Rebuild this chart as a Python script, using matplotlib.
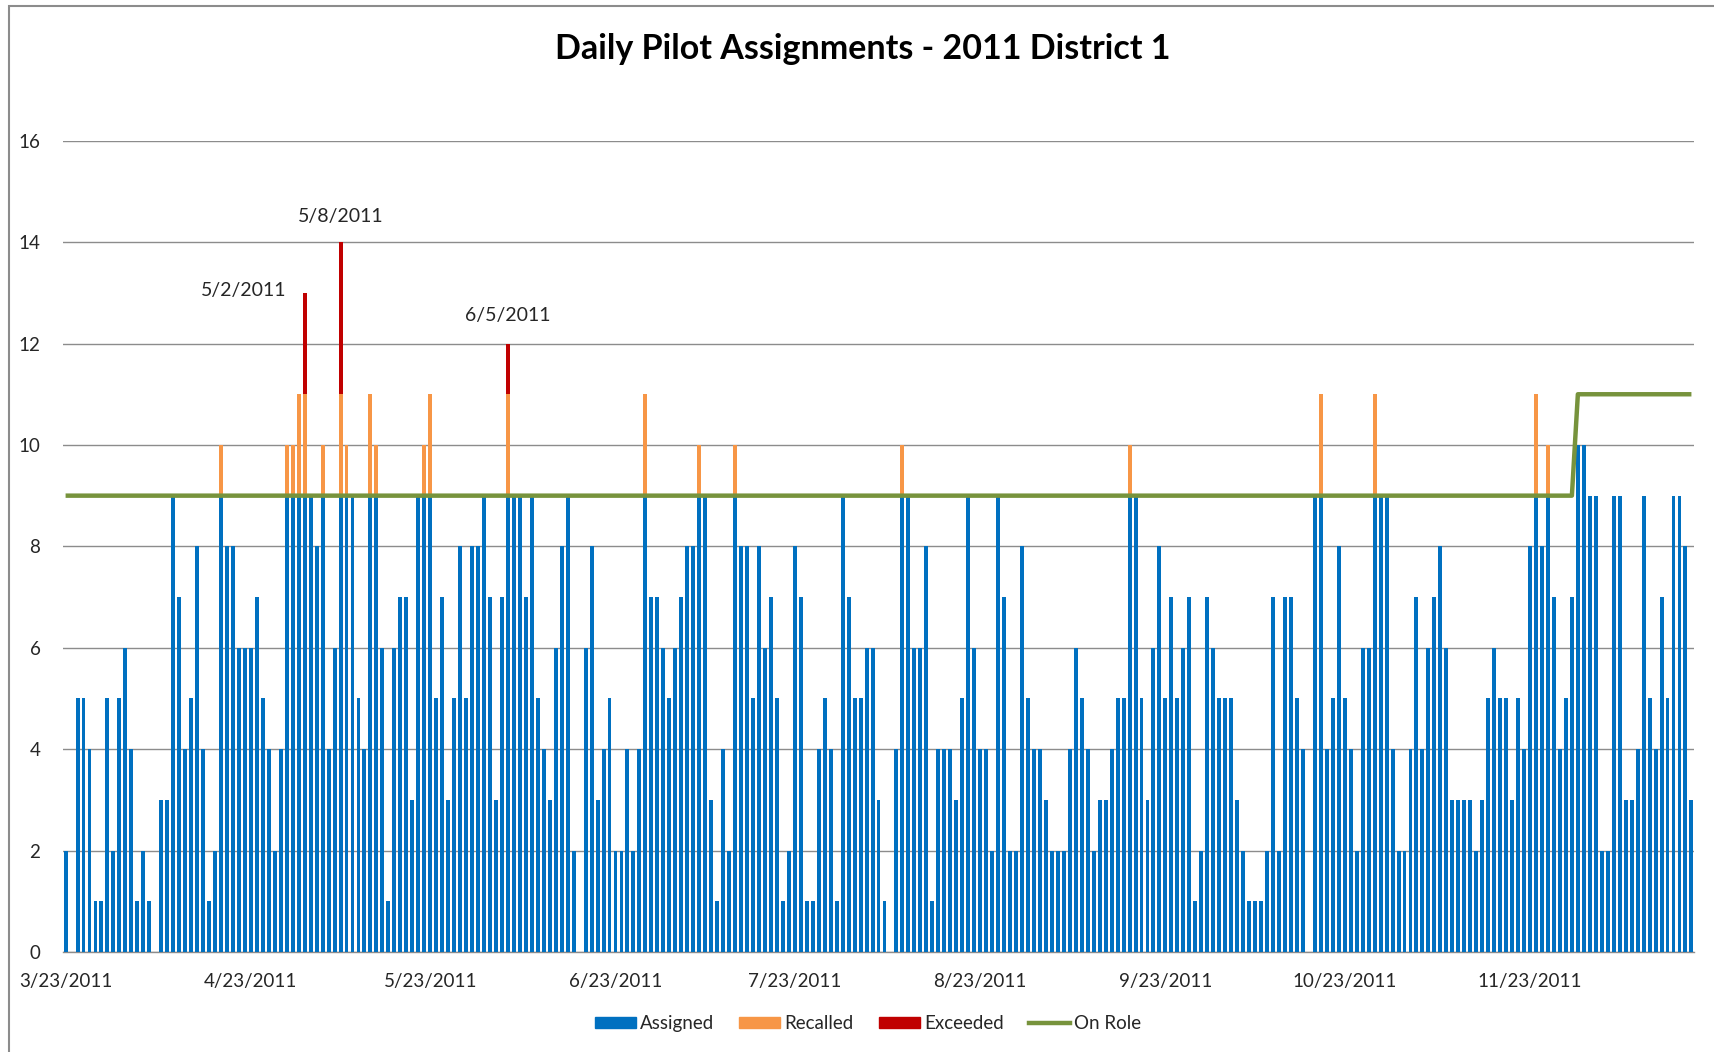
import matplotlib
matplotlib.use("Agg")
import matplotlib.pyplot as plt
import matplotlib.patches as mpatches
import matplotlib.lines as mlines
import pandas as pd
import numpy as np

# ---------------- data ----------------
start_date = "2011-03-23"
# Assigned pilots per day (blue), from 3/23/2011 onward
assigned = [
    2, 0, 5, 5, 4, 1, 1, 5, 2, 5, 6, 4, 1, 2, 1, 0, 3, 3, 9, 7, 4, 5, 8, 4, 1, 2,   # 3/23 - 4/17
    9, 8, 8, 6, 6, 6, 7, 5, 4, 2, 4, 9, 9, 9, 9, 9, 8, 9, 4, 6, 9, 9, 9, 5, 4, 9,   # 4/18 - 5/13
    9, 6, 1, 6, 7, 7, 3, 9, 9, 9, 5, 7, 3, 5, 8, 5, 8, 8, 9, 7, 3, 7, 9, 9, 9, 7,   # 5/14 - 6/8
    9, 5, 4, 3, 6, 8, 9, 2, 0, 6, 8, 3, 4, 5, 2, 2, 4, 2, 4, 9, 7, 7, 6, 5, 6, 7,   # 6/9 - 7/4
    8, 8, 9, 9, 3, 1, 4, 2, 9, 8, 8, 5, 8, 6, 7, 5, 1, 2, 8, 7, 1, 1, 4, 5, 4, 1,   # 7/5 - 7/30
    9, 7, 5, 5, 6, 6, 3, 1, 0, 4, 9, 9, 6, 6, 8, 1, 4, 4, 4, 3, 5, 9, 6, 4, 4, 2,   # 7/31 - 8/25
    9, 7, 2, 2, 8, 5, 4, 4, 3, 2, 2, 2, 4, 6, 5, 4, 2, 3, 3, 4, 5, 5, 9, 9, 5, 3,   # 8/26 - 9/20
    6, 8, 5, 7, 5, 6, 7, 1, 2, 7, 6, 5, 5, 5, 3, 2, 1, 1, 1, 2, 7, 2, 7, 7, 5, 4,   # 9/21 - 10/16
    0, 9, 9, 4, 5, 8, 5, 4, 2, 6, 6, 9, 9, 9, 4, 2, 2, 4, 7, 4, 6, 7, 8, 6, 3, 3,   # 10/17 - 11/11
    3, 3, 2, 3, 5, 6, 5, 5, 3, 5, 4, 8, 9, 8, 9, 7, 4, 5, 7, 10, 10, 9, 9, 2, 2, 9, # 11/12 - 12/7
    9, 3, 3, 4, 9, 5, 4, 7, 5, 9, 9, 8, 3,                                           # 12/8 - 12/20
]
# Recalled pilots (orange), stacked above the assigned bars
recalled_dates = ["2011-04-18", "2011-04-29", "2011-04-30", "2011-05-01", "2011-05-02",
                  "2011-05-05", "2011-05-08", "2011-05-09", "2011-05-13", "2011-05-14",
                  "2011-05-22", "2011-05-23", "2011-06-05", "2011-06-28", "2011-07-07",
                  "2011-07-13", "2011-08-10", "2011-09-17", "2011-10-19", "2011-10-28",
                  "2011-11-24", "2011-11-26"]
recalled_values = [1, 1, 1, 2, 2, 1, 2, 1, 2, 1, 1, 2, 2, 2, 1, 1, 1, 1, 2, 2, 2, 1]
# Exceeded (red), stacked above recalled
exceeded_dates = ["2011-05-02", "2011-05-08", "2011-06-05"]
exceeded_values = [2, 3, 1]
exceeded_labels = ["5/2/2011", "5/8/2011", "6/5/2011"]
# On Role level (green line): step changes
on_role_change_dates = ["2011-03-23", "2011-12-01"]
on_role_levels = [9, 11]

tick_dates = ["2011-03-23", "2011-04-23", "2011-05-23", "2011-06-23", "2011-07-23",
              "2011-08-23", "2011-09-23", "2011-10-23", "2011-11-23"]

# ---------------- build series ----------------
dates = pd.date_range(start_date, periods=len(assigned), freq="D")
df = pd.DataFrame({"assigned": assigned}, index=dates)
df["recalled"] = 0
df["exceeded"] = 0
for d, v in zip(recalled_dates, recalled_values):
    df.loc[pd.Timestamp(d), "recalled"] = v
for d, v in zip(exceeded_dates, exceeded_values):
    df.loc[pd.Timestamp(d), "exceeded"] = v
on_role = pd.Series(np.nan, index=dates)
for d, v in zip(on_role_change_dates, on_role_levels):
    on_role.loc[pd.Timestamp(d)] = v
on_role = on_role.ffill()

x = np.arange(len(dates))
day0 = dates[0]
def dx(d):
    return (pd.Timestamp(d) - day0).days

# ---------------- style ----------------
plt.rcParams["font.family"] = ["Lato", "DejaVu Sans"]
BLUE = "#0070C0"
ORANGE = "#F79646"
RED = "#C00000"
GREEN = "#77933C"
GRID = "#8C8C8C"
TXT = "#262626"

fig = plt.figure(figsize=(17.15, 10.52), dpi=100)
ax = fig.add_axes([0.0365, 0.0951, 0.9515, 0.7711])

w = 0.66
ax.bar(x, df["assigned"], width=w, color=BLUE, zorder=3, label="Assigned")
ax.bar(x, df["recalled"], width=w, bottom=df["assigned"], color=ORANGE, zorder=3, label="Recalled")
ax.bar(x, df["exceeded"], width=w, bottom=df["assigned"] + df["recalled"], color=RED, zorder=3,
       label="Exceeded")
ax.plot(x, on_role.values, color=GREEN, lw=3.2, zorder=4, solid_capstyle="butt", label="On Role")

# annotations
label_offsets = {"5/2/2011": (-10.2, 0.05), "5/8/2011": (0, 0.5), "6/5/2011": (0, 0.55)}
for d, lab in zip(exceeded_dates, exceeded_labels):
    i = dx(d)
    top = df["assigned"].iloc[i] + df["recalled"].iloc[i] + df["exceeded"].iloc[i]
    ox, oy = label_offsets[lab]
    ax.text(i + ox, top + oy, lab, ha="center", va="center", fontsize=14, color=TXT, zorder=5)

ax.set_xlim(-0.5, len(dates) - 0.5)
ax.set_ylim(0, 16)
ax.set_yticks(range(0, 17, 2))
ax.set_xticks([dx(d) for d in tick_dates])
ax.set_xticklabels([f"{pd.Timestamp(d).month}/{pd.Timestamp(d).day}/{pd.Timestamp(d).year}"
                    for d in tick_dates])
ax.tick_params(axis="both", length=0, labelsize=13.5, colors=TXT)
ax.tick_params(axis="y", pad=16)
ax.tick_params(axis="x", pad=15)
ax.grid(axis="y", color=GRID, lw=1, zorder=0)
for s in ["left", "right", "top"]:
    ax.spines[s].set_visible(False)
ax.spines["bottom"].set_color(GRID)
ax.spines["bottom"].set_linewidth(1)

fig.text(0.503, 0.953, "Daily Pilot Assignments - 2011 District 1", ha="center", va="center",
         fontsize=24.5, fontweight="bold", color="black")

handles = [mpatches.Patch(color=BLUE, label="Assigned"),
           mpatches.Patch(color=ORANGE, label="Recalled"),
           mpatches.Patch(color=RED, label="Exceeded"),
           mlines.Line2D([], [], color=GREEN, lw=3.2, label="On Role")]
fig.legend(handles=handles, loc="center", bbox_to_anchor=(0.506, 0.027), ncol=4, frameon=False,
           fontsize=13.5, handlelength=2.2, handleheight=0.6, handletextpad=0.2, columnspacing=1.35,
           labelcolor=TXT)

# outer chart border
border = mpatches.Rectangle((9 / 1715, -0.05), 1.2, 1 - 6 / 1052 + 0.05, transform=fig.transFigure,
                            fill=False, edgecolor="#8C8C8C", lw=1.5, clip_on=False)
fig.add_artist(border)

fig.savefig("out.png", dpi=100)
